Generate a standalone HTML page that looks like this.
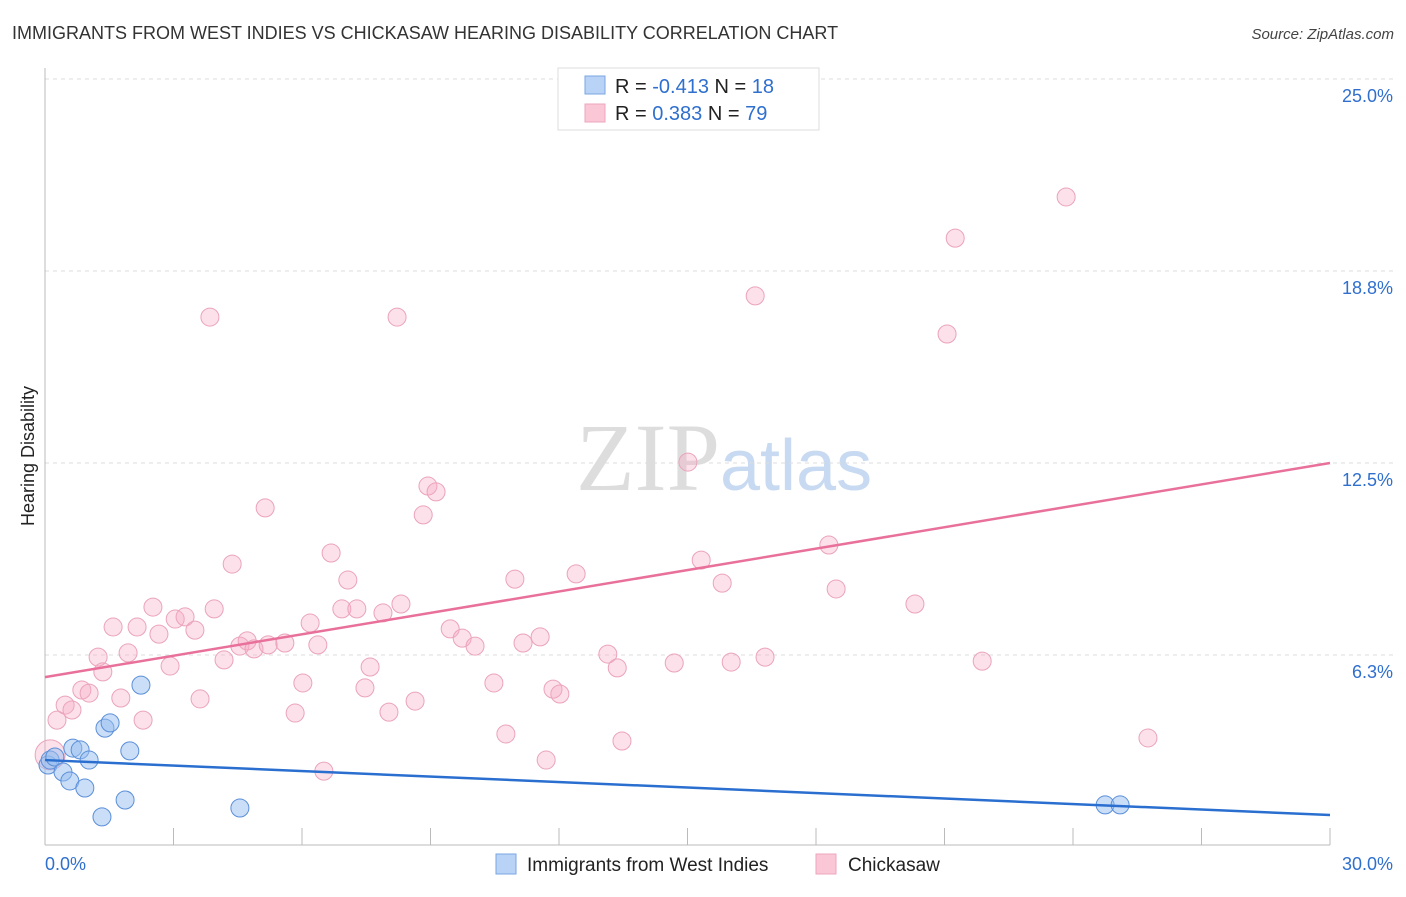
<!DOCTYPE html>
<html><head><meta charset="utf-8"><style>
body{margin:0;background:#fff;font-family:"Liberation Sans",sans-serif}
</style></head><body>
<svg id="c" width="1406" height="892" xmlns="http://www.w3.org/2000/svg">
<text x="12" y="39" font-size="18" fill="#333">IMMIGRANTS FROM WEST INDIES VS CHICKASAW HEARING DISABILITY CORRELATION CHART</text>
<text x="1394" y="39" font-size="15" fill="#444" font-style="italic" text-anchor="end">Source: ZipAtlas.com</text>
<text x="720" y="490" font-size="96" fill="#ddd" text-anchor="end" font-family="Liberation Serif">ZIP</text>
<text x="720" y="490" font-size="72" fill="#c8daf2">atlas</text>
<text transform="translate(34,456) rotate(-90)" font-size="18" fill="#222" text-anchor="middle">Hearing Disability</text>
<g id="grid"></g><g id="marks"></g>
<g>
<rect x="558" y="68" width="261" height="62" fill="#fff" stroke="#ddd"/>
<rect x="585" y="76" width="20" height="18" fill="#b8d3f5" stroke="#7aa6e3"/>
<rect x="585" y="104" width="20" height="18" fill="#f9c7d6" stroke="#eea5bd"/>
<text x="615" y="93" font-size="20" fill="#222">R = <tspan fill="#2f6fce">-0.413</tspan>   N = <tspan fill="#2f6fce"> 18</tspan></text>
<text x="615" y="120" font-size="20" fill="#222">R = <tspan fill="#2f6fce"> 0.383</tspan>   N = <tspan fill="#2f6fce">79</tspan></text>
</g>
<g>
<rect x="496" y="854" width="20" height="20" fill="#b8d3f5" stroke="#7aa6e3"/>
<text x="527" y="871" font-size="19" fill="#222">Immigrants from West Indies</text>
<rect x="816" y="854" width="20" height="20" fill="#f9c7d6" stroke="#eea5bd"/>
<text x="848" y="871" font-size="19" fill="#222">Chickasaw</text>
</g>
</svg>
<script>
const yTicks=[6.25,12.5,18.75,25];
const yTickLabels=["6.3%","12.5%","18.8%","25.0%"];
const xTicks=[0,3,6,9,12,15,18,21,24,27,30];
const blueX=[0.07,0.12,0.23,0.42,0.58,0.65,0.82,0.93,1.03,1.33,1.40,1.52,1.98,1.87,2.24,4.55,24.75,25.1];
const blueY=[2.67,2.83,2.93,2.44,2.15,3.22,3.16,1.92,2.83,0.98,3.87,4.04,3.13,1.53,5.27,1.27,1.37,1.37];
const pinkX=[0.12,0.28,0.47,0.63,0.86,1.03,1.24,1.35,1.59,1.77,1.94,2.15,2.29,2.52,2.66,2.92,3.04,3.27,3.50,3.62,3.85,3.95,4.18,4.37,4.55,4.72,4.88,5.14,5.21,5.60,5.84,6.02,6.19,6.37,6.51,6.68,6.93,7.07,7.28,7.47,7.59,7.89,8.03,8.22,8.31,8.64,8.83,8.94,9.13,9.46,9.74,10.04,10.48,10.76,10.97,11.16,11.56,11.70,11.86,12.02,12.40,13.14,13.36,13.47,14.69,15.01,15.32,15.81,16.02,16.58,16.81,18.30,18.47,20.31,21.06,21.25,21.88,23.84,25.75];
const pinkY=[3.0,4.13,4.62,4.46,5.11,5.01,6.18,5.70,7.16,4.85,6.32,7.16,4.13,7.81,6.93,5.89,7.42,7.49,7.06,4.82,17.25,7.75,6.09,9.21,6.54,6.71,6.45,11.04,6.58,6.64,4.36,5.34,7.29,6.58,2.47,9.57,7.75,8.69,7.75,5.18,5.86,7.62,4.39,17.25,7.91,4.75,10.81,11.75,11.56,7.10,6.80,6.54,5.34,3.68,8.72,6.64,6.84,2.83,5.14,4.98,8.89,6.28,5.83,3.45,5.99,12.53,9.34,8.59,6.02,17.94,6.18,9.83,8.40,7.91,16.70,19.82,6.05,21.16,3.55];
const blueTrend=[2.83,1.04];
const pinkTrend=[5.53,12.5];
const X=v=>45+v/30*1285, Y=v=>847-v*30.72;
const NS="http://www.w3.org/2000/svg";
const g=document.getElementById('grid'), m=document.getElementById('marks');
function mk(p,t,a){const e=document.createElementNS(NS,t);for(const k in a)e.setAttribute(k,a[k]);p.appendChild(e);return e;}
yTicks.forEach((t,i)=>{
 const l=mk(g,'line',{x1:45,x2:1394,y1:Y(t),y2:Y(t),stroke:'#ddd','stroke-dasharray':'4,4'});
 
 
 const tx=mk(g,'text',{x:1393,y:Y(t)+23,'font-size':18,fill:'#2f6fce','text-anchor':'end'});
 tx.textContent=yTickLabels[i];
 
 
});
xTicks.forEach(t=>{
 const l=mk(g,'line',{x1:X(t),x2:X(t),y1:828,y2:845,stroke:'#bbb'});
 
 
});
mk(g,'line',{x1:45,x2:45,y1:68,y2:845,stroke:'#bbb'});
mk(g,'line',{x1:45,x2:1330,y1:845,y2:845,stroke:'#bbb'});
const x0=mk(g,'text',{x:45,y:870,'font-size':18,fill:'#2f6fce'});x0.textContent='0.0%';


const x1=mk(g,'text',{x:1393,y:870,'font-size':18,fill:'#2f6fce','text-anchor':'end'});x1.textContent='30.0%';


pinkX.forEach((x,i)=>{
 const c=mk(m,'circle',{cx:X(x),cy:Y(pinkY[i]),r:i==0?15:9,fill:'rgba(246,170,196,0.35)',stroke:'#eba3bb','stroke-width':1});
 
 
});
blueX.forEach((x,i)=>{
 const c=mk(m,'circle',{cx:X(x),cy:Y(blueY[i]),r:9,fill:'rgba(150,190,240,0.5)',stroke:'#5b8fd9','stroke-width':1});
 
 
});
const pl=mk(m,'line',{x1:X(0),y1:Y(pinkTrend[0]),x2:X(30),y2:Y(pinkTrend[1]),stroke:'#e8709a','stroke-width':2.5});


const bl=mk(m,'line',{x1:X(0),y1:Y(blueTrend[0]),x2:X(30),y2:Y(blueTrend[1]),stroke:'#2a6fd0','stroke-width':2.5});


</script>
</body></html>
